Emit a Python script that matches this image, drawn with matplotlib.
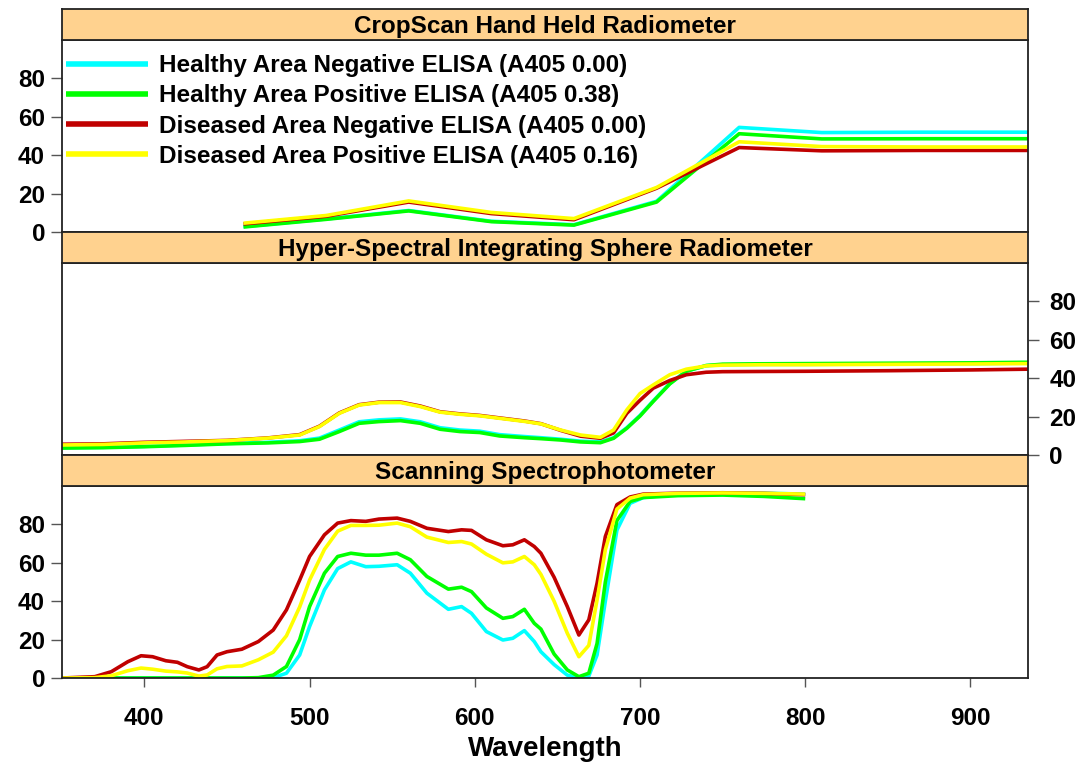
import matplotlib
matplotlib.use("Agg")
import matplotlib.pyplot as plt

plt.rcParams['font.family'] = ['Liberation Sans', 'DejaVu Sans']
plt.rcParams['font.weight'] = 'bold'

# Series names / colours
labels = ['Healthy Area Negative ELISA (A405 0.00)',
          'Healthy Area Positive ELISA (A405 0.38)',
          'Diseased Area Negative ELISA (A405 0.00)',
          'Diseased Area Positive ELISA (A405 0.16)']
colors = ['#00FFFF', '#00FF00', '#C00000', '#FFFF00']
panel_titles = ['CropScan Hand Held Radiometer',
                'Hyper-Spectral Integrating Sphere Radiometer',
                'Scanning Spectrophotometer']

# CropScan Hand Held Radiometer (band centres)
cs_wl = [460, 510, 560, 610, 660, 710, 760, 810, 870, 950]
cs_hea_neg = [2.8, 6.8, 11.2, 5.6, 3.8, 16.0, 54.5, 51.8, 52.0, 52.0]
cs_hea_pos = [2.6, 6.6, 11.0, 5.4, 3.6, 15.6, 51.2, 48.5, 48.6, 48.6]
cs_dis_neg = [4.2, 8.2, 15.6, 9.6, 6.4, 22.8, 44.0, 42.3, 42.5, 42.5]
cs_dis_pos = [4.6, 8.6, 16.2, 10.2, 7.0, 23.2, 47.0, 44.5, 44.3, 44.3]

# Hyper-Spectral Integrating Sphere Radiometer
hs_wl = [350, 375, 400, 425, 450, 475, 494, 506, 518, 530, 542, 555, 567, 579,
         591, 603, 615, 630, 640, 652, 664, 676, 684, 692, 700, 708, 718, 728,
         740, 750, 773, 800, 850, 900, 935]
hs_hea_neg = [3.8, 4.0, 4.5, 5.2, 6.0, 6.6, 7.4, 8.8, 13.0, 17.3, 18.3, 18.8, 17.3, 14.2,
              13.0, 12.4, 10.6, 9.6, 9.0, 8.2, 7.2, 6.8, 9.0, 14.2, 20.6, 28.2, 37.2, 43.7,
              46.5, 47.0, 47.2, 47.2, 47.4, 47.6, 47.9]
hs_hea_pos = [3.6, 3.8, 4.3, 5.0, 5.8, 6.3, 7.0, 8.2, 12.2, 16.5, 17.4, 17.9, 16.5, 13.4,
              12.2, 11.7, 9.9, 9.0, 8.5, 7.8, 6.8, 6.4, 8.7, 13.9, 20.3, 27.9, 37.0, 43.6,
              46.6, 47.3, 47.5, 47.6, 47.8, 48.0, 48.3]
hs_dis_neg = [5.6, 5.8, 6.6, 7.1, 7.6, 8.9, 10.6, 15.0, 21.9, 26.2, 27.5, 27.6, 25.5, 22.5,
              21.4, 20.6, 19.3, 17.7, 16.3, 12.8, 9.8, 8.7, 11.5, 21.7, 28.5, 34.8, 38.8, 41.8,
              43.1, 43.4, 43.5, 43.6, 43.9, 44.3, 44.7]
hs_dis_pos = [5.2, 5.5, 6.3, 6.8, 7.5, 8.8, 10.4, 14.8, 21.7, 26.0, 27.3, 27.3, 25.2, 22.3,
              21.2, 20.4, 19.1, 17.5, 16.2, 13.0, 10.4, 9.2, 13.0, 23.5, 32.0, 36.5, 41.8, 44.7,
              46.4, 46.8, 47.0, 47.0, 47.2, 47.4, 47.6]

# Scanning Spectrophotometer
ss_wl = [350, 370, 380, 390, 398, 405, 413, 420, 426, 433, 438, 444, 450, 459, 469,
         478, 486, 494, 500, 509, 517, 525, 534, 542, 553, 561, 571, 584, 592, 598,
         607, 617, 623, 630, 636, 640, 648, 656, 663, 669, 674, 679, 686, 694, 702,
         723, 750, 775, 800]
ss_hea_neg = [0, 0, 0, 0, 0, 0, 0, 0, 0, 0, 0, 0, 0, 0, 0,
              0.2, 2.5, 12.0, 26.8, 45.9, 57.0, 60.5, 58.0, 58.2, 59.0, 54.6, 44.2, 35.8, 37.2, 33.7,
              24.2, 19.8, 20.7, 24.7, 19.0, 13.7, 7.0, 1.5, 0.2, 1.0, 12.0, 40.0, 77.0, 91.0, 94.0,
              96.0, 96.5, 96.3, 95.8]
ss_hea_pos = [0, 0, 0, 0, 0, 0, 0, 0, 0, 0, 0, 0, 0, 0, 0.2,
              1.5, 6.0, 20.0, 37.2, 54.6, 63.3, 65.0, 64.0, 64.0, 65.0, 61.6, 52.9, 46.3, 47.3, 45.0,
              36.5, 31.1, 32.0, 35.8, 28.5, 25.5, 12.5, 4.2, 0.7, 2.5, 18.0, 50.0, 82.0, 92.0, 94.0,
              95.0, 95.3, 94.6, 93.4]
ss_dis_neg = [0, 0.7, 3.3, 8.5, 11.6, 11.1, 9.0, 8.2, 5.9, 4.2, 5.9, 12.0, 13.7, 15.0, 19.0,
              25.0, 35.5, 51.0, 63.3, 74.6, 80.7, 82.0, 81.6, 82.8, 83.3, 81.6, 78.0, 76.3, 77.2, 76.9,
              72.0, 68.9, 69.4, 72.0, 68.5, 65.0, 52.5, 37.2, 22.4, 30.3, 49.4, 73.7, 90.3, 94.3, 95.8,
              96.3, 96.5, 96.2, 95.5]
ss_dis_pos = [0, 0.2, 1.2, 3.8, 5.2, 4.6, 3.6, 3.2, 2.6, 1.0, 1.6, 4.8, 6.0, 6.3, 9.5,
              13.5, 22.0, 37.0, 51.0, 67.0, 76.5, 79.5, 79.5, 79.6, 80.7, 78.8, 73.4, 70.6, 71.1, 69.8,
              64.5, 60.0, 60.5, 63.3, 59.0, 54.0, 40.0, 23.3, 11.1, 17.0, 40.7, 66.8, 88.0, 93.7, 95.5,
              96.2, 96.4, 96.2, 95.8]

panels = [
    (cs_wl, [cs_hea_neg, cs_hea_pos, cs_dis_neg, cs_dis_pos]),
    (hs_wl, [hs_hea_neg, hs_hea_pos, hs_dis_neg, hs_dis_pos]),
    (ss_wl, [ss_hea_neg, ss_hea_pos, ss_dis_neg, ss_dis_pos]),
]

fig = plt.figure(figsize=(10.83, 7.67), dpi=100)
left, width = 0.057, 0.8925
plot_bottoms = [0.6975, 0.4068, 0.116]
plot_h = 0.2503
strip_h = 0.0400
strip_color = '#FFD28F'
fs = 17.5

for i, (wl, series) in enumerate(panels):
    b = plot_bottoms[i]
    ax = fig.add_axes([left, b, width, plot_h])
    for y, c, lab in zip(series, colors, labels):
        ax.plot(wl, y, color=c, lw=2.6, label=lab,
                solid_capstyle='butt', solid_joinstyle='round')
    ax.set_xlim(350, 935)
    ax.set_ylim(0, 100)
    ax.set_yticks([0, 20, 40, 60, 80])
    for s in ax.spines.values():
        s.set_color('#222222')
        s.set_linewidth(1.3)
    ax.tick_params(axis='y', length=8, width=1, color='#555555', labelsize=fs, pad=4)
    if i == 1:
        ax.yaxis.tick_right()
        ax.tick_params(axis='y', pad=7)
    if i == 2:
        ax.set_xticks([400, 500, 600, 700, 800, 900])
        ax.tick_params(axis='x', length=6.5, width=1, color='#555555', labelsize=fs, pad=14)
    else:
        ax.set_xticks([])
    if i == 0:
        ax.legend(loc='upper left', bbox_to_anchor=(0.004, 0.925), frameon=False,
                  fontsize=fs, handlelength=3.4, handletextpad=0.45,
                  labelspacing=0.29, borderpad=0, borderaxespad=0)
        for h in ax.get_legend().get_lines():
            h.set_linewidth(4)

    sax = fig.add_axes([left, b + plot_h, width, strip_h])
    sax.set_facecolor(strip_color)
    sax.set_xticks([])
    sax.set_yticks([])
    for s in sax.spines.values():
        s.set_color('#222222')
        s.set_linewidth(1.3)
    sax.text(0.5, 0.45, panel_titles[i], ha='center', va='center',
             fontsize=fs, fontweight='bold', transform=sax.transAxes)

fig.text(left + width / 2, 0.006, 'Wavelength', ha='center', va='bottom',
         fontsize=20, fontweight='bold')

fig.savefig('out.png', dpi=100)
